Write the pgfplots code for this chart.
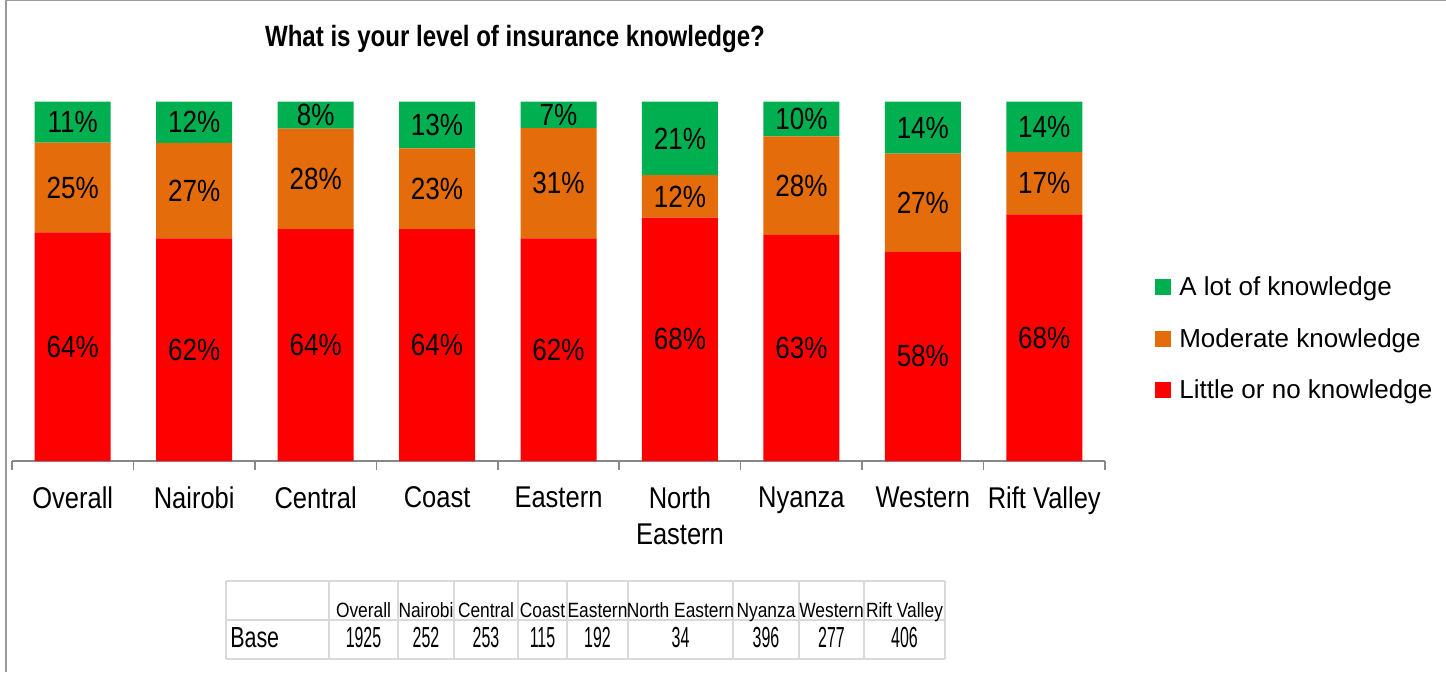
\documentclass[border=0pt]{standalone}
\usepackage{pgfplots}
\pgfplotsset{compat=1.18}
\usepackage{fontspec}
\setmainfont{Liberation Sans}
\newfontfamily\cond[FakeStretch=0.85]{Liberation Sans}
\newfontfamily\titlef[FakeStretch=0.82]{Liberation Sans}
\newfontfamily\tabh[FakeStretch=0.84]{Liberation Sans}
\newfontfamily\tabb[FakeStretch=0.74]{Liberation Sans}
\newfontfamily\tabn[FakeStretch=0.55]{Liberation Sans}
\definecolor{cgreen}{HTML}{00B050}
\definecolor{corange}{HTML}{E46C0A}
\definecolor{cred}{HTML}{FF0000}
\definecolor{axgray}{HTML}{888888}
\definecolor{tabgray}{HTML}{D9D9D9}
\definecolor{framegray}{HTML}{9A9A9A}
\begin{document}
\begin{tikzpicture}
\begin{scope}[x=0.75pt,y=-0.75pt]
\path[use as bounding box] (0,0) rectangle (1446,672);
\draw[framegray, line width=1.5pt] (6,0) -- (6,672);
\draw[framegray, line width=1.5pt] (6,0) -- (1446,0);
\end{scope}
\begin{axis}[
  at={(9pt,-345.75pt)}, anchor=south west,
  scale only axis, width=819.75pt, height=269.6pt,
  xmin=-0.5, xmax=8.5, ymin=0, ymax=100,
  clip=false,
  ybar stacked, bar width=57pt,
  axis x line*=bottom, hide y axis,
  axis line style={axgray, line width=1.2pt},
  xtick={0,1,2,3,4,5,6,7,8},
  xticklabels={Overall,Nairobi,Central,Coast,Eastern,North\\Eastern,Nyanza,Western,Rift Valley},
  major tick length=0pt,
  minor xtick={-0.5,0.5,1.5,2.5,3.5,4.5,5.5,6.5,7.5,8.5},
  minor tick length=6.75pt,
  tick align=outside,
  minor x tick style={axgray, line width=1.2pt},
  xticklabel style={font=\cond\fontsize{22.5}{27}\selectfont, align=center, anchor=north, yshift=-15.5pt},
  title={What is your level of insurance knowledge?},
  title style={font=\titlef\bfseries\fontsize{22}{26}\selectfont, at={(axis description cs:0.4602,1.13)}, anchor=base, inner sep=0pt},
  nodes near coords={\pgfplotspointmeta\%},
  point meta=explicit symbolic,
  every node near coord/.append style={anchor=center, font=\cond\fontsize{23}{27}\selectfont, text=black},
  legend style={draw=none, fill=none, at={(axis description cs:1.0458,0.3405)}, anchor=west,
    font=\fontsize{19.5}{23}\selectfont, row sep=19pt, inner sep=0pt,
    /tikz/every odd column/.append style={column sep=4pt}},
  legend cell align=left,
  reverse legend,
  legend image code/.code={\fill[#1] (0pt,-6pt) rectangle (12pt,6pt);},
]
\addplot[fill=cred, draw=none] coordinates {(0,63.6)[64] (1,61.9)[62] (2,64.5)[64] (3,64.5)[64] (4,61.9)[62] (5,67.7)[68] (6,62.9)[63] (7,58.2)[58] (8,68.6)[68]};
\addplot[fill=corange, draw=none] coordinates {(0,25.0)[25] (1,26.6)[27] (2,28.0)[28] (3,22.5)[23] (4,30.7)[31] (5,11.8)[12] (6,27.4)[28] (7,27.3)[27] (8,17.4)[17]};
\addplot[fill=cgreen, draw=none] coordinates {(0,11.4)[11] (1,11.5)[12] (2,7.5)[8] (3,13.0)[13] (4,7.4)[7] (5,20.5)[21] (6,9.7)[10] (7,14.5)[14] (8,14.0)[14]};
\legend{Little or no knowledge, Moderate knowledge, A lot of knowledge}
\end{axis}
\begin{scope}[x=0.75pt,y=-0.75pt]
\draw[tabgray, line width=1.2pt] (226,581) -- (945,581) (226,620) -- (945,620) (226,659) -- (945,659);
\foreach \x in {226,329,398,454,518,567,628,733,799,864,945}
  \draw[tabgray, line width=1.2pt] (\x,581) -- (\x,659);
\node[anchor=base west, inner sep=0pt, font=\tabb\fontsize{21.75}{26}\selectfont] at (230,647) {Base};
\foreach \c/\h/\n in {363.5/Overall/1925, 426/Nairobi/252, 486/Central/253, 542.5/Coast/115, 597.5/Eastern/192, 680.5/North Eastern/34, 766/Nyanza/396, 831.5/Western/277, 904.5/Rift Valley/406}{
  \node[anchor=base, inner sep=0pt, font=\tabh\fontsize{15.5}{18}\selectfont] at (\c,617.5) {\h};
  \node[anchor=base, inner sep=0pt, font=\tabn\fontsize{21.75}{26}\selectfont] at (\c,647) {\n};
}
\end{scope}
\end{tikzpicture}
\end{document}
